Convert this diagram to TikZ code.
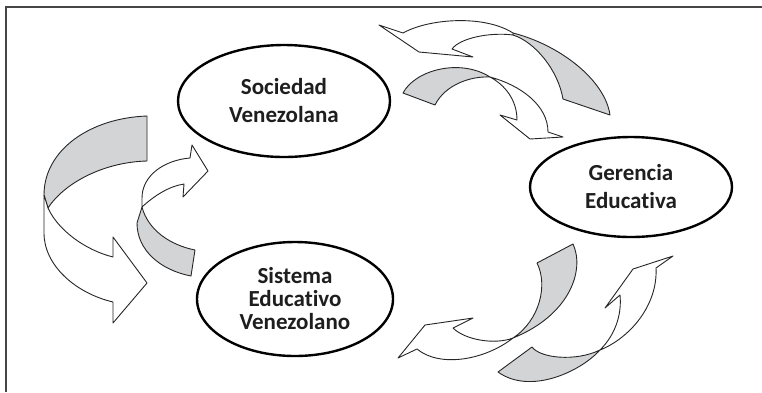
\documentclass[tikz,border=0pt]{standalone}
\usepackage{fontspec}
\setmainfont{Carlito}[Ligatures={NoCommon,NoContextual}]
\usetikzlibrary{shapes.geometric}
\definecolor{bandgray}{RGB}{211,212,214}
\definecolor{framegray}{RGB}{70,70,70}
\definecolor{textdark}{RGB}{30,30,30}
\begin{document}
\begin{tikzpicture}[x=1pt,y=-1pt,
  band/.style={draw=black!85, line width=0.9pt, fill=white, line join=round},
  back/.style={band, fill=bandgray},
  oval/.style={ellipse, draw=black, line width=2.4pt, fill=white, inner sep=0pt, align=center, text=textdark},
  twoline/.style={font=\fontsize{23}{28}\selectfont\bfseries},
  threeline/.style={font=\fontsize{23}{23}\selectfont\bfseries}]
\useasboundingbox (0,0) rectangle (762,392);
\draw[framegray, line width=1.8pt] (6,392) -- (6,7) -- (762,7);

% ellipses
\node[oval, twoline, minimum width=212pt, minimum height=112pt] (soc) at (284,101) {Sociedad\\Venezolana};
\node[oval, twoline, minimum width=202pt, minimum height=100pt] (ger) at (631,187) {Gerencia\\Educativa};
\node[oval, threeline, minimum width=196pt, minimum height=114pt] (sis) at (295,299) {Sistema\\Educativo\\Venezolano};

% left big arrow
\path[back] (147,116) .. controls (90,118) and (44,150) .. (44,195) -- (48,208) .. controls (65,182) and (105,162) .. (147,161) -- cycle;
\path[band] (48,208) .. controls (58,230) and (85,250) .. (113,257) -- (113,237) -- (147,283) -- (113,323) -- (113,302) .. controls (75,293) and (44,265) .. (44,233) -- (44,195) -- cycle;

% left small arrow
\path[back] (142,207) .. controls (148,230) and (170,245) .. (195,250) -- (191,276) .. controls (160,270) and (137,250) .. (137,223) -- cycle;
\path[band] (142,198) .. controls (142,175) and (165,160) .. (190,158) -- (192,145) -- (208,171) -- (183,197) -- (184,184) .. controls (170,186) and (155,195) .. (142,207) -- cycle;

% top right upper arrow
\path[back] (513,33) .. controls (560,45) and (605,80) .. (610,115) -- (563,99) .. controls (558,70) and (535,42) .. (513,35) -- cycle;
\path[band] (513,33) .. controls (485,15) and (430,18) .. (403,33) -- (379,25) -- (419,52) -- (473,57) -- (452,49) .. controls (460,38) and (490,32) .. (513,35) -- cycle;

% top right lower arrow
\path[back] (403,93) .. controls (415,70) and (460,58) .. (490,77) .. controls (470,76) and (445,85) .. (435,105) -- cycle;
\path[band] (490,77) .. controls (520,85) and (548,105) .. (548,132) -- (563,137) -- (530,139) -- (500,115) -- (517,120) .. controls (517,100) and (505,85) .. (490,77) -- cycle;

% bottom right left-pointing arrow
\path[back] (573,244) .. controls (585,270) and (570,315) .. (513,338) .. controls (540,320) and (548,285) .. (537,263) -- cycle;
\path[band] (513,338) .. controls (495,345) and (465,340) .. (453,328) -- (473,318) -- (425,325) -- (398,358) -- (417,349) .. controls (440,368) and (485,360) .. (513,338) -- cycle;

% bottom right up-pointing arrow
\path[back] (498,372) -- (532,347) .. controls (540,358) and (575,362) .. (600,350) .. controls (580,372) and (530,395) .. (498,372) -- cycle;
\path[band] (600,350) .. controls (615,335) and (622,315) .. (620,295) -- (605,308) -- (633,269) -- (673,256) -- (656,268) .. controls (658,305) and (630,338) .. (600,350) -- cycle;
\end{tikzpicture}
\end{document}
